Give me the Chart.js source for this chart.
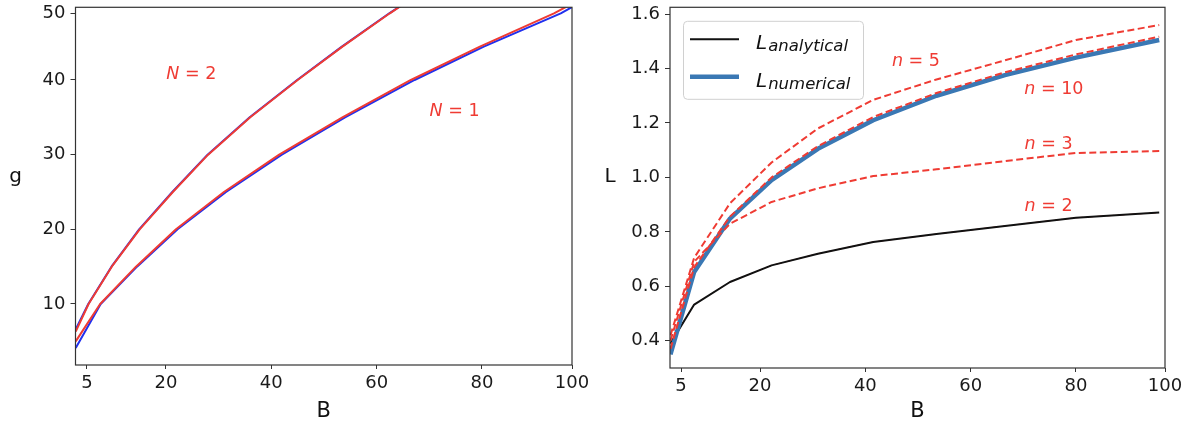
<!DOCTYPE html>
<html><head><meta charset="utf-8">
<script src="https://cdn.jsdelivr.net/npm/chart.js@4.4.1/dist/chart.umd.min.js"></script>
<style>
html,body{margin:0;padding:0;background:#fff;}
body{width:1193px;height:428px;position:relative;overflow:hidden;}
#w1{position:absolute;left:0;top:0;width:600px;height:428px;}
#w2{position:absolute;left:600px;top:0;width:593px;height:428px;}
</style></head><body>
<div id="w1"><canvas id="c1"></canvas></div>
<div id="w2"><canvas id="c2"></canvas></div>
<script>
// ---------------- data ----------------
const xTickValues = [5, 20, 40, 60, 80, 100];
const xTickLabels = ['5', '20', '40', '60', '80', '100'];
const gTickValues = [10, 20, 30, 40, 50];
const gTickLabels = ['10', '20', '30', '40', '50'];
const lTickValues = [0.4, 0.6, 0.8, 1.0, 1.2, 1.4, 1.6];
const lTickLabels = ['0.4', '0.6', '0.8', '1.0', '1.2', '1.4', '1.6'];

// left panel: g versus B
const n1RedB  = [2.86, 7.5, 14.3, 21.9, 31.0, 41.5, 53.5, 66.5, 79.6, 96.0, 110];
const n1RedG  = [5.0, 10, 15, 20, 25, 30, 35, 40, 45, 50, 55];
const n1BlueB = [2.86, 7.6, 14.5, 22.2, 31.4, 42.0, 54.0, 67.2, 80.4, 97.5, 111];
const n1BlueG = [4.1, 10, 15, 20, 25, 30, 35, 40, 45, 50, 55];
const n2RedB  = [2.86, 5.3, 9.7, 15.0, 21.3, 28.0, 36.0, 45.0, 53.5, 62.5, 72];
const n2RedG  = [6.3, 10, 15, 20, 25, 30, 35, 40, 45, 50, 55];
const n2BlueB = [2.86, 5.25, 9.65, 14.9, 21.2, 27.9, 35.9, 44.9, 53.4, 62.4, 72];
const n2BlueG = [6.6, 10, 15, 20, 25, 30, 35, 40, 45, 50, 55];

// right panel: L versus B
const bPoints     = [3.0, 7.5, 14.3, 22.2, 31.0, 41.5, 53.5, 66.5, 80.0, 98.7];
const lAnalytical = [0.39, 0.533, 0.616, 0.677, 0.72, 0.763, 0.792, 0.822, 0.852, 0.871];
const lNumerical  = [0.35, 0.653, 0.849, 0.99, 1.105, 1.21, 1.30, 1.376, 1.44, 1.505];
const lN2  = [0.39, 0.533, 0.616, 0.677, 0.72, 0.763, 0.792, 0.822, 0.852, 0.871];
const lN3  = [0.40, 0.69, 0.83, 0.91, 0.96, 1.005, 1.03, 1.06, 1.09, 1.097];
const lN5  = [0.42, 0.705, 0.905, 1.055, 1.18, 1.285, 1.36, 1.43, 1.505, 1.56];
const lN10 = [0.37, 0.67, 0.856, 1.0, 1.115, 1.222, 1.31, 1.386, 1.452, 1.517];

// annotations
const leftNoteVar = ['N', 'N'];
const leftNoteVal = ['2', '1'];
const leftNoteB   = [24.8, 74.8];
const leftNoteG   = [40.9, 35.8];
const rightNoteVar = ['n', 'n', 'n', 'n'];
const rightNoteVal = ['5', '10', '3', '2'];
const rightNoteB   = [49.6, 75.8, 74.8, 74.8];
const rightNoteL   = [1.425, 1.324, 1.122, 0.894];
const legendMain = ['L', 'L'];
const legendSub  = ['analytical', 'numerical'];

// ---------------- styles ----------------
const RED = '#ef3b33';
const BLUE_L = '#2130ee';
const BLUE_R = '#3a78b4';
const FONT = "'DejaVu Sans', 'Liberation Sans', sans-serif";
const TICK_FONT = { family: FONT, size: 18 };
const TICK_COLOR = '#1a1a1a';

// piecewise-linear axis (the reference's axes are not uniform near their ends)
class KnotScale extends Chart.LinearScale {
  _knots() { return this.options.knots; }
  _dec(v) {
    const k = this._knots();
    let i = 0;
    while (i < k.length - 2 && v > k[i + 1][0]) i++;
    const a = k[i], b = k[i + 1];
    return a[1] + (v - a[0]) * (b[1] - a[1]) / (b[0] - a[0]);
  }
  getPixelForValue(v) {
    if (v === null || v === undefined) return NaN;
    return this.getPixelForDecimal(this._dec(v));
  }
  getValueForPixel(p) {
    const d = this.getDecimalForPixel(p);
    const k = this._knots();
    let i = 0;
    while (i < k.length - 2 && d > k[i + 1][1]) i++;
    const a = k[i], b = k[i + 1];
    return a[0] + (d - a[1]) * (b[0] - a[0]) / (b[1] - a[1]);
  }
}
KnotScale.id = 'knot';
KnotScale.defaults = {};
Chart.register(KnotScale);

const pts = (xs, ys) => xs.map((x, i) => ({ x: x, y: ys[i] }));

function line(data, color, width, order, dash) {
  return {
    data: data, borderColor: color, borderWidth: width, pointRadius: 0,
    tension: 0, fill: false, order: order, borderDash: dash || [],
    borderJoinStyle: 'round', borderCapStyle: 'butt'
  };
}

function xAxis(knots, height) {
  return {
    type: 'knot', knots: knots, min: knots[0][0], max: knots[knots.length - 1][0],
    afterBuildTicks: s => { s.ticks = xTickValues.map(v => ({ value: v })); },
    afterFit: s => { s.height = height; s.paddingLeft = 0; s.paddingRight = 0; },
    ticks: { autoSkip: false, maxRotation: 0, minRotation: 0, padding: 4, font: TICK_FONT, color: TICK_COLOR,
             callback: (v, i) => xTickLabels[i] },
    grid: { drawOnChartArea: false, drawTicks: true, tickLength: 4, tickColor: '#333', tickWidth: 1 },
    border: { display: false }
  };
}
function yAxis(base, values, labels, width) {
  return Object.assign({
    afterBuildTicks: s => { s.ticks = values.map(v => ({ value: v })); },
    afterFit: s => { s.width = width; s.paddingTop = 0; s.paddingBottom = 0; },
    ticks: { autoSkip: false, padding: 5, font: TICK_FONT, color: TICK_COLOR,
             callback: (v, i) => labels[i] },
    grid: { drawOnChartArea: false, drawTicks: true, tickLength: 5, tickColor: '#333', tickWidth: 1 },
    border: { display: false }
  }, base);
}

function drawMixed(ctx, parts, cx, cy) {
  let w = 0;
  parts.forEach(p => { ctx.font = p[1]; w += ctx.measureText(p[0]).width; });
  let x = cx - w / 2;
  ctx.textAlign = 'left';
  ctx.textBaseline = 'middle';
  parts.forEach(p => { ctx.font = p[1]; ctx.fillText(p[0], x, cy); x += ctx.measureText(p[0]).width; });
}

const decor = {
  id: 'decor',
  afterDraw(chart, args, o) {
    const ctx = chart.ctx, a = chart.chartArea;
    const xs = chart.scales.x, ys = chart.scales.y;
    ctx.save();
    // frame
    ctx.strokeStyle = '#333';
    ctx.lineWidth = 1.2;
    ctx.strokeRect(a.left, a.top, a.right - a.left, a.bottom - a.top);
    // notes
    ctx.fillStyle = RED;
    o.noteVar.forEach((v, i) => {
      const px = xs.getPixelForValue(o.noteX[i]);
      const py = ys.getPixelForValue(o.noteY[i]);
      drawMixed(ctx, [[v, 'italic 17.5px ' + FONT], [' = ' + o.noteVal[i], '17.5px ' + FONT]], px, py);
    });
    // axis titles
    ctx.fillStyle = '#111';
    ctx.textAlign = 'center';
    ctx.textBaseline = 'alphabetic';
    ctx.font = '21px ' + FONT;
    ctx.fillText(o.xTitle, (a.left + a.right) / 2, 417);
    ctx.font = '20px ' + FONT;
    ctx.fillText(o.yTitle, a.left - 60, 182);
    // legend
    if (o.legend) {
      const bx = a.left + 13, by = a.top + 13.5, bw = 180, bh = 78;
      ctx.beginPath();
      ctx.roundRect(bx + 0.5, by + 0.5, bw, bh, 4);
      ctx.fillStyle = 'rgba(255,255,255,0.85)';
      ctx.fill();
      ctx.strokeStyle = '#d0d0d0';
      ctx.lineWidth = 1;
      ctx.stroke();
      const rows = [a.top + 32, a.top + 69.4];
      const cols = ['#111', BLUE_R];
      const widths = [2, 4.5];
      rows.forEach((ry, i) => {
        ctx.beginPath();
        ctx.strokeStyle = cols[i];
        ctx.lineWidth = widths[i];
        ctx.moveTo(a.left + 20, ry);
        ctx.lineTo(a.left + 69, ry);
        ctx.stroke();
        ctx.fillStyle = '#111';
        ctx.textAlign = 'left';
        ctx.textBaseline = 'alphabetic';
        ctx.font = 'italic 20px ' + FONT;
        ctx.fillText(legendMain[i], a.left + 86, ry + 10);
        const lw = ctx.measureText(legendMain[i]).width;
        ctx.font = 'italic 16.5px ' + FONT;
        ctx.fillText(legendSub[i], a.left + 86 + lw + 1, ry + 12);
      });
    }
    ctx.restore();
  }
};

const common = {
  responsive: true, maintainAspectRatio: false, animation: false, devicePixelRatio: 1,
  plugins: { legend: { display: false }, tooltip: { enabled: false } },
  elements: { line: { capBezierPoints: false } }
};

// ---------------- left chart ----------------
new Chart(document.getElementById('c1'), {
  type: 'line',
  data: {
    datasets: [
      line(pts(n1BlueB, n1BlueG), BLUE_L, 2, 1),
      line(pts(n1RedB, n1RedG), RED, 2, 0),
      line(pts(n2BlueB, n2BlueG), BLUE_L, 2, 1),
      line(pts(n2RedB, n2RedG), RED, 2, 0)
    ]
  },
  options: Object.assign({}, common, {
    layout: { padding: { left: 0, top: 7.3, right: 28, bottom: 0 } },
    scales: {
      x: xAxis([[2.82, 0], [80, 0.8187], [100, 1]], 63),
      y: yAxis({ type: 'knot', knots: [[1.83, 0], [40, 0.7968], [50.9, 1]], min: 1.83, max: 50.9 },
               gTickValues, gTickLabels, 75.5)
    },
    plugins: Object.assign({}, common.plugins, {
      decor: { noteVar: leftNoteVar, noteVal: leftNoteVal, noteX: leftNoteB, noteY: leftNoteG,
               xTitle: 'B', yTitle: 'g', legend: false }
    })
  }),
  plugins: [decor]
});

// ---------------- right chart ----------------
new Chart(document.getElementById('c2'), {
  type: 'line',
  data: {
    datasets: [
      line(pts(bPoints, lN2), RED, 1, 4, [7, 3.5]),
      line(pts(bPoints, lAnalytical), '#111', 2, 3),
      line(pts(bPoints, lNumerical), BLUE_R, 4.5, 2),
      line(pts(bPoints, lN3), RED, 2, 1, [7, 3.5]),
      line(pts(bPoints, lN5), RED, 2, 1, [7, 3.5]),
      line(pts(bPoints, lN10), RED, 2, 0, [7, 3.5])
    ]
  },
  options: Object.assign({}, common, {
    layout: { padding: { left: 0, top: 7.3, right: 28, bottom: 0 } },
    scales: {
      x: xAxis([[2.91, 0], [80, 0.8202], [100, 1]], 60),
      y: yAxis({ type: 'linear', min: 0.30, max: 1.625 }, lTickValues, lTickLabels, 70)
    },
    plugins: Object.assign({}, common.plugins, {
      decor: { noteVar: rightNoteVar, noteVal: rightNoteVal, noteX: rightNoteB, noteY: rightNoteL,
               xTitle: 'B', yTitle: 'L', legend: true }
    })
  }),
  plugins: [decor]
});
</script>
</body></html>
